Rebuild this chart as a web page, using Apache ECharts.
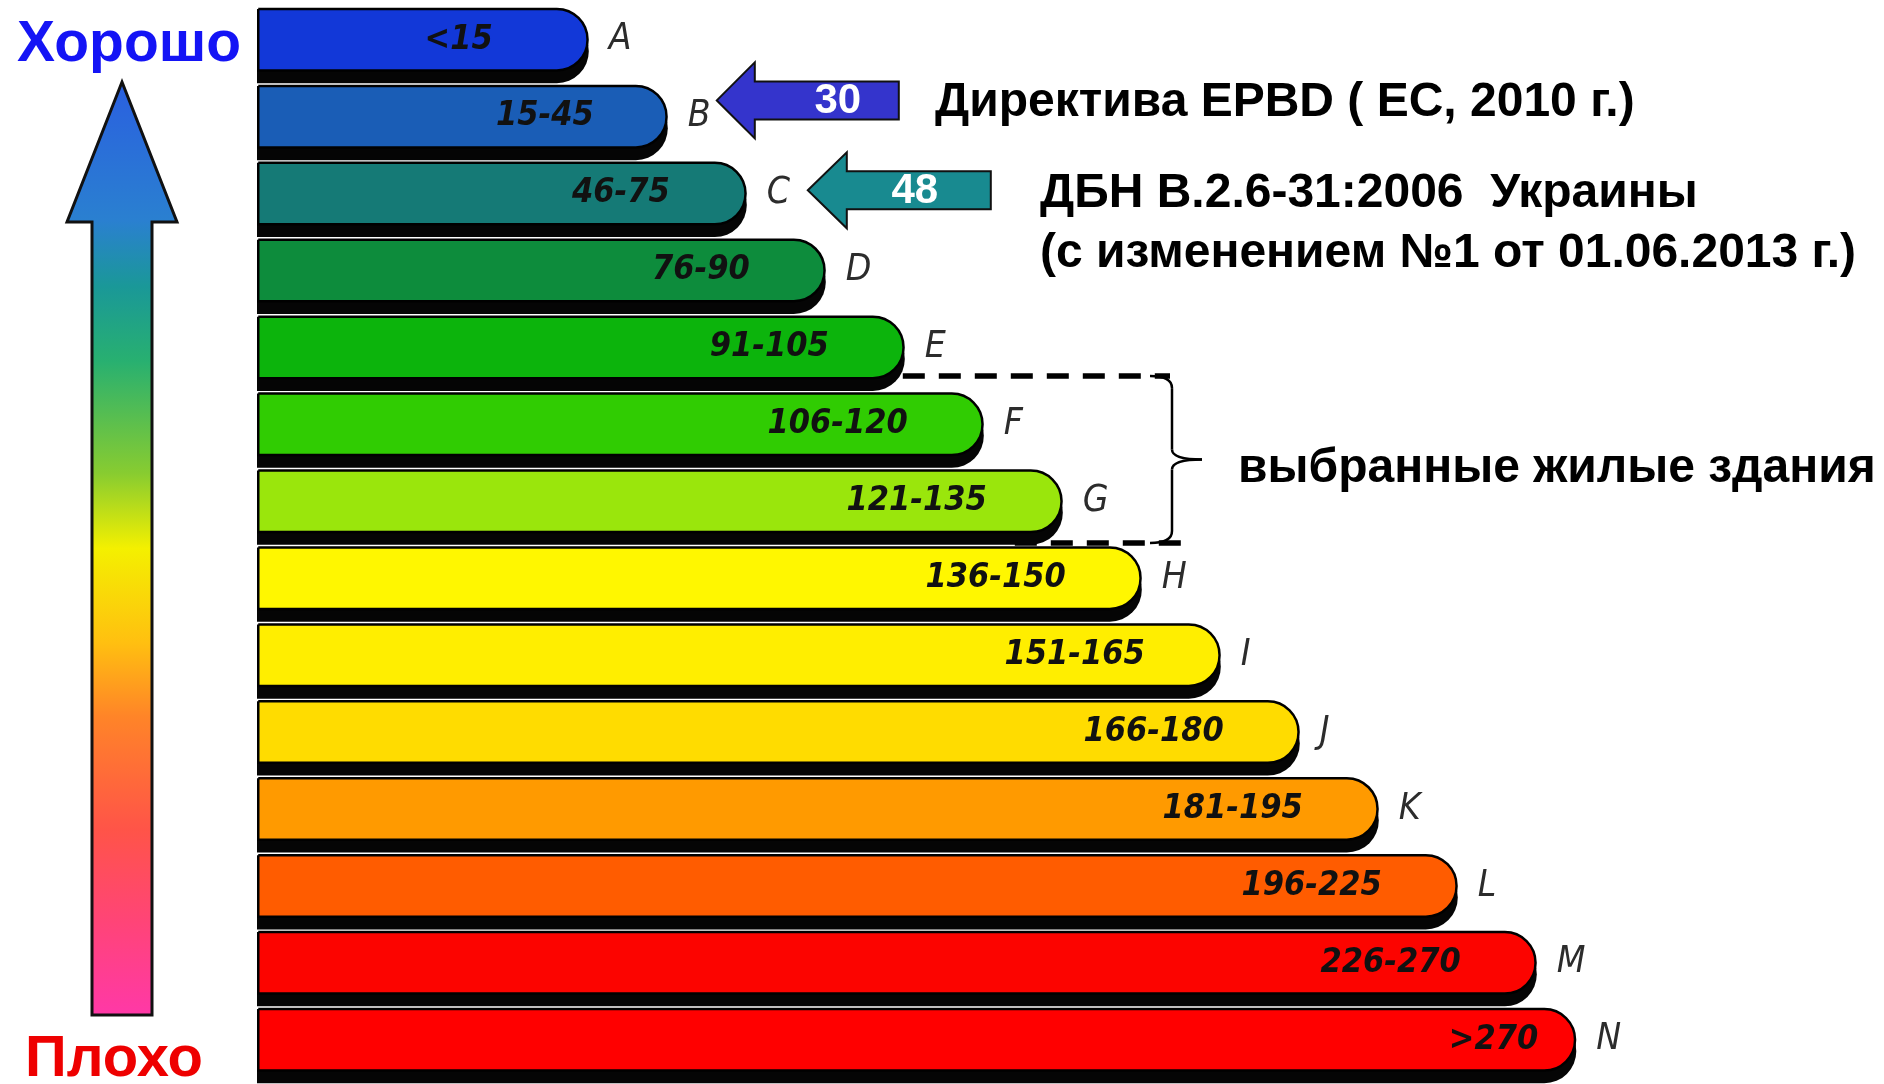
<!DOCTYPE html>
<html>
<head>
<meta charset="utf-8">
<script src="https://cdn.jsdelivr.net/npm/echarts@6/dist/echarts.min.js"></script>
<style>
  html, body { margin: 0; padding: 0; background: #ffffff; }
  #chart { width: 1884px; height: 1084px; }
</style>
</head>
<body>
<div id="chart"></div>
<script>
// Energy efficiency classes, best (top) to worst (bottom)
const classes = ['A', 'B', 'C', 'D', 'E', 'F', 'G', 'H', 'I', 'J', 'K', 'L', 'M', 'N'];
// Specific energy consumption ranges, kWh/m2 per year
const ranges = ['<15', '15-45', '46-75', '76-90', '91-105', '106-120', '121-135',
                '136-150', '151-165', '166-180', '181-195', '196-225', '226-270', '>270'];
// Length of each class bar (staircase steps)
const barLength = [4.2, 5.2, 6.2, 7.2, 8.2, 9.2, 10.2, 11.2, 12.2, 13.2, 14.2, 15.2, 16.2, 16.7];
const classColors = ['#1238d8', '#1a5db6', '#157a76', '#0d8c3c', '#0cb40c', '#30cc02', '#9ae60c',
                     '#fff700', '#ffee00', '#ffdc00', '#ff9a00', '#ff5c00', '#fc0400', '#ff0000'];
// gap between the range text and the rounded end of its bar
const rangeLabelGap = [96, 74, 77, 76, 76, 76, 76, 76, 76, 76, 76, 76, 76, 38];

// Reference limits pointed at by the arrows
const epbdLimit = { value: 30, cls: 'B', text: 'Директива EPBD ( ЕС, 2010 г.)' };
const dbnLimit = { value: 48, cls: 'C', lines: ['ДБН В.2.6-31:2006  Украины', '(с изменением №1 от 01.06.2013 г.)'] };
// Classes of the surveyed residential buildings
const selectedClasses = ['F', 'G'];
const selectedText = 'выбранные жилые здания';

const chart = echarts.init(document.getElementById('chart'));

const labelFont = 'DejaVu Sans Condensed, DejaVu Sans, sans-serif';
const textFont = 'Liberation Sans, Arial, sans-serif';
const BAR_W = 64;
const SHADOW_SHIFT = 11.5; // vertical offset of the dark band under each bar

chart.setOption({
  animation: false,
  grid: { left: 257, top: 7, width: 1580, height: 1085 },
  xAxis: { type: 'value', min: 0, max: 20, show: false },
  yAxis: { type: 'category', data: classes, inverse: true, show: false },
  series: [
    {
      // coloured class bars with the range inside
      type: 'bar',
      barWidth: BAR_W,
      barGap: '-82%',
      data: barLength.map((v, i) => ({
        value: v,
        itemStyle: { color: classColors[i] },
        label: { distance: rangeLabelGap[i] }
      })),
      itemStyle: {
        borderColor: '#000',
        borderWidth: 2.5,
        borderRadius: [0, BAR_W / 2, BAR_W / 2, 0]
      },
      label: {
        show: true,
        position: 'insideRight',
        formatter: p => ranges[p.dataIndex],
        fontFamily: labelFont,
        fontStyle: 'italic',
        fontWeight: 'bold',
        fontSize: 34,
        color: '#111'
      },
      z: 3
    },
    {
      // dark band below each bar, carries the class letter
      type: 'bar',
      barWidth: BAR_W,
      barGap: '-82%',
      silent: true,
      data: barLength,
      itemStyle: { color: '#050505', borderRadius: [0, BAR_W / 2, BAR_W / 2, 0] },
      label: {
        show: true,
        position: 'right',
        distance: 20,
        offset: [0, -SHADOW_SHIFT],
        formatter: p => classes[p.dataIndex],
        fontFamily: labelFont,
        fontStyle: 'italic',
        fontSize: 37,
        color: '#2c2c2c'
      },
      z: 2
    }
  ]
});

// pixel helpers for annotations
const rowY = cls => chart.convertToPixel({ gridIndex: 0 }, [0, classes.indexOf(cls)])[1];
const endX = cls => chart.convertToPixel({ gridIndex: 0 }, [barLength[classes.indexOf(cls)], 0])[0];

function leftArrow(tipX, cy, headLen, headHalf, shaftHalf, tailX) {
  const bx = tipX + headLen;
  return [[tipX, cy], [bx, cy - headHalf], [bx, cy - shaftHalf], [tailX, cy - shaftHalf],
          [tailX, cy + shaftHalf], [bx, cy + shaftHalf], [bx, cy + headHalf]];
}

const graphics = [];

// Good / bad scale arrow on the left
graphics.push({
  type: 'polygon',
  shape: { points: [[122, 82], [177, 222], [152, 222], [152, 1015], [92, 1015], [92, 222], [67, 222]] },
  style: {
    fill: new echarts.graphic.LinearGradient(0, 0, 0, 1, [
      { offset: 0, color: '#2a5fe0' },
      { offset: 0.15, color: '#2a80d0' },
      { offset: 0.22, color: '#1a9898' },
      { offset: 0.30, color: '#28b070' },
      { offset: 0.42, color: '#88cc30' },
      { offset: 0.50, color: '#f4f000' },
      { offset: 0.60, color: '#ffc010' },
      { offset: 0.68, color: '#ff8428' },
      { offset: 0.80, color: '#ff5448' },
      { offset: 0.90, color: '#ff4478' },
      { offset: 1, color: '#ff38a8' }
    ]),
    stroke: '#111',
    lineWidth: 3
  }
});
graphics.push({
  type: 'text', x: 17, y: 45,
  style: { text: 'Хорошо', fill: '#1414f5', font: 'bold 57px ' + textFont, verticalAlign: 'middle' }
});
graphics.push({
  type: 'text', x: 25, y: 1060,
  style: { text: 'Плохо', fill: '#ee0000', font: 'bold 58px ' + textFont, verticalAlign: 'middle' }
});

// EPBD arrow
{
  const cy = rowY(epbdLimit.cls) - 22;
  const tip = endX(epbdLimit.cls) + 49;
  graphics.push({
    type: 'polygon',
    shape: { points: leftArrow(tip, cy, 38, 38, 19, tip + 182) },
    style: { fill: '#3434cc', stroke: '#111', lineWidth: 2 }
  });
  graphics.push({
    type: 'text', x: tip + 121, y: cy + 1,
    style: { text: String(epbdLimit.value), fill: '#fff', font: 'bold 42px ' + textFont, align: 'center', verticalAlign: 'middle' }
  });
  graphics.push({
    type: 'text', x: 935, y: cy + 2,
    style: { text: epbdLimit.text, fill: '#000', font: 'bold 48px ' + textFont, verticalAlign: 'middle' }
  });
}

// DBN arrow
{
  const cy = rowY(dbnLimit.cls) - 9;
  const tip = endX(dbnLimit.cls) + 61;
  graphics.push({
    type: 'polygon',
    shape: { points: leftArrow(tip, cy, 39, 38, 19, tip + 183) },
    style: { fill: '#188a90', stroke: '#111', lineWidth: 2 }
  });
  graphics.push({
    type: 'text', x: tip + 107, y: cy + 1,
    style: { text: String(dbnLimit.value), fill: '#fff', font: 'bold 42px ' + textFont, align: 'center', verticalAlign: 'middle' }
  });
  dbnLimit.lines.forEach((t, i) => {
    graphics.push({
      type: 'text', x: 1040, y: cy + 3 + i * 60,
      style: { text: t, fill: '#000', font: 'bold 48px ' + textFont, verticalAlign: 'middle' }
    });
  });
}

// dashed bracket around the selected classes
{
  const first = selectedClasses[0];
  const last = selectedClasses[selectedClasses.length - 1];
  const yTop = rowY(first) - 54;
  const yBot = rowY(last) + 36;
  const bx = 1172;
  const prev = classes[classes.indexOf(first) - 1];
  const dash = { stroke: '#000', lineWidth: 5.5, lineDash: [22, 14] };
  graphics.push({ type: 'line', shape: { x1: endX(prev) - 74, y1: yTop, x2: bx - 2, y2: yTop }, style: dash });
  graphics.push({ type: 'line', shape: { x1: endX(last) - 48, y1: yBot, x2: bx + 16, y2: yBot }, style: dash });
  const ym = (yTop + yBot) / 2;
  const brace = { fill: null, stroke: '#000', lineWidth: 2.5 };
  graphics.push({ type: 'bezierCurve', shape: { x1: bx - 22, y1: yTop, cpx1: bx, cpy1: yTop, x2: bx, y2: yTop + 12 }, style: brace });
  graphics.push({ type: 'line', shape: { x1: bx, y1: yTop + 12, x2: bx, y2: ym - 10 }, style: brace });
  graphics.push({ type: 'bezierCurve', shape: { x1: bx, y1: ym - 10, cpx1: bx, cpy1: ym, x2: bx + 30, y2: ym }, style: brace });
  graphics.push({ type: 'bezierCurve', shape: { x1: bx + 30, y1: ym, cpx1: bx, cpy1: ym, x2: bx, y2: ym + 10 }, style: brace });
  graphics.push({ type: 'line', shape: { x1: bx, y1: ym + 10, x2: bx, y2: yBot - 12 }, style: brace });
  graphics.push({ type: 'bezierCurve', shape: { x1: bx, y1: yBot - 12, cpx1: bx, cpy1: yBot, x2: bx - 22, y2: yBot }, style: brace });
  graphics.push({
    type: 'text', x: 1238, y: ym + 9,
    style: { text: selectedText, fill: '#000', font: 'bold 48px ' + textFont, verticalAlign: 'middle' }
  });
}

chart.setOption({ graphic: graphics });
</script>
</body>
</html>
